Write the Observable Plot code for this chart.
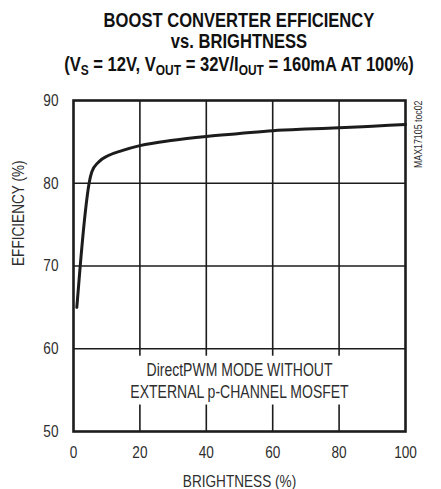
<!DOCTYPE html>
<html>
<head>
<meta charset="utf-8">
<script src="https://cdn.jsdelivr.net/npm/d3@7"></script>
<script src="https://cdn.jsdelivr.net/npm/@observablehq/plot@0.6"></script>
<style>
  html, body { margin: 0; padding: 0; background: #fff; }
  #wrap { position: relative; width: 441px; height: 489px; overflow: hidden; }
  #title { position: relative; height: 80px; font-family: "Liberation Sans", Arial, sans-serif; font-weight: bold; font-size: 19.5px; color: #111; }
  #title div { position: absolute; left: 239px; transform: translateX(-50%) scaleX(0.85); white-space: nowrap; line-height: 20px; }
  #title sub { font-size: 0.72em; vertical-align: -0.25em; line-height: 0; }
  #chart { position: absolute; top: 80px; left: 0; }
</style>
</head>
<body>
<div id="wrap">
  <div id="title">
    <div id="t1" style="top:10px">BOOST CONVERTER EFFICIENCY</div>
    <div id="t2" style="top:31px">vs. BRIGHTNESS</div>
    <div id="t3" style="top:54px">(V<sub>S</sub> = 12V, V<sub>OUT</sub> = 32V/I<sub>OUT</sub> = 160mA AT 100%)</div>
  </div>
  <div id="chart"></div>
</div>
<script>
// Data
const brightness = [1.0, 2.0, 3.5, 4.7, 5.5, 7.5, 10.5, 14.6, 20, 30, 40, 50, 60, 70, 80, 90, 100];
const efficiency = [65.0, 69.9, 76.3, 80.0, 81.35, 82.55, 83.35, 83.95, 84.55, 85.2, 85.65, 86.0, 86.35, 86.55, 86.7, 86.9, 87.1];
const xTicks = [0, 20, 40, 60, 80, 100];
const yTicks = [50, 60, 70, 80, 90];
const xGrid = [20, 40, 60, 80];
const yGrid = [60, 70, 80];
const noteLines = ["DirectPWM MODE WITHOUT", "EXTERNAL p-CHANNEL MOSFET"];
const noteY = [57.4, 54.75];
const xLabel = "BRIGHTNESS (%)";
const yLabel = "EFFICIENCY (%)";
const tocLabel = "MAX17105 toc02";

const pts = brightness.map((b, i) => ({b, e: efficiency[i]}));
const notes = noteLines.map((t, i) => ({t, y: noteY[i]}));
const ink = "#1c1c1c";
const txt = "#2e2e2e";
const font = "'Liberation Sans', Arial, sans-serif";

const chart = Plot.plot({
  width: 441,
  height: 409,
  marginTop: 20,
  marginBottom: 58,
  marginLeft: 73,
  marginRight: 36,
  style: {fontFamily: font, fontSize: "17px", color: txt, background: "#fff"},
  x: {domain: [0, 100]},
  y: {domain: [50, 90]},
  marks: [
    Plot.ruleX(xGrid, {stroke: ink, strokeWidth: 1.6}),
    Plot.ruleY(yGrid, {stroke: ink, strokeWidth: 1.6}),
    Plot.rect([{x1: 18.8, x2: 81.2, y1: 53.2, y2: 59.1}], {x1: "x1", x2: "x2", y1: "y1", y2: "y2", fill: "#fff"}),
    Plot.text(notes, {x: 50, y: "y", text: "t", fontSize: 17.5, fill: txt}),
    Plot.line(pts, {x: "b", y: "e", stroke: ink, strokeWidth: 3, curve: "monotone-x"}),
    Plot.axisX(xTicks, {tickSize: 0, tickPadding: 14, fontSize: 17, label: null, fill: txt}),
    Plot.axisY(yTicks, {tickSize: 0, tickPadding: 15, fontSize: 17, label: null, fill: txt}),
    Plot.text([xLabel], {frameAnchor: "bottom", dy: 55, fontSize: 17, fill: txt}),
    Plot.text([yLabel], {frameAnchor: "left", dx: -55, rotate: -90, fontSize: 17, fill: txt}),
    Plot.text([tocLabel], {frameAnchor: "top-right", dx: 9, rotate: -90, textAnchor: "end", fontSize: 11, fill: txt}),
    Plot.frame({stroke: ink, strokeWidth: 2.6})
  ]
});
document.getElementById("chart").appendChild(chart);
// condense glyphs to mimic a narrow typeface
chart.querySelectorAll("text").forEach(t => {
  const L = t.getComputedTextLength();
  if (L > 0) {
    t.setAttribute("textLength", (L * 0.8).toFixed(2));
    t.setAttribute("lengthAdjust", "spacingAndGlyphs");
  }
});
</script>
</body>
</html>
